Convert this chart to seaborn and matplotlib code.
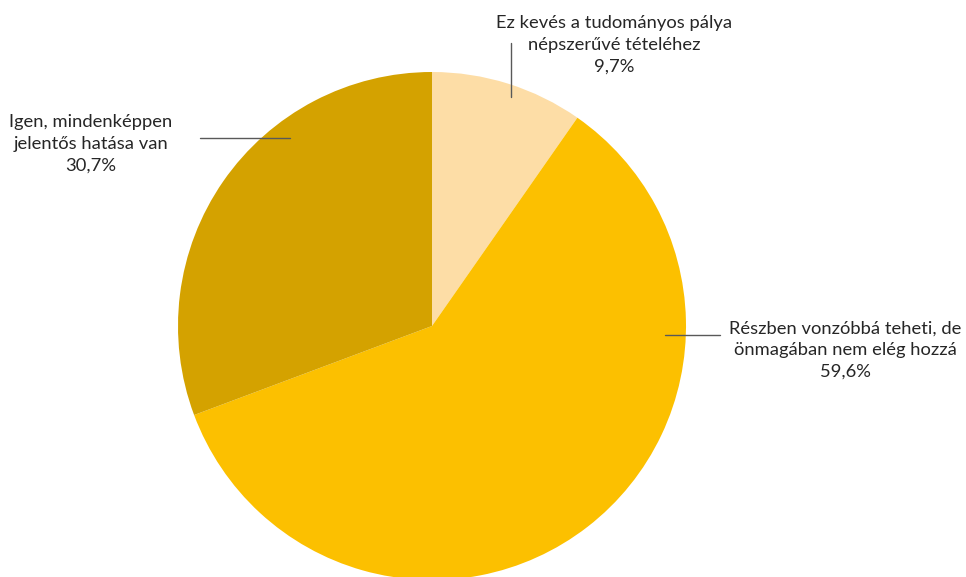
import matplotlib
matplotlib.use("Agg")
import matplotlib.pyplot as plt
import seaborn as sns

# Survey answer shares (percent), clockwise from 12 o'clock
categories = [
    "Ez kevés a tudományos pálya\nnépszerűvé tételéhez",
    "Részben vonzóbbá teheti, de\nönmagában nem elég hozzá",
    "Igen, mindenképpen\njelentős hatása van",
]
values = [9.7, 59.6, 30.7]
value_labels = ["9,7%", "59,6%", "30,7%"]
colors = ["#FDDDA6", "#FCC000", "#D4A200"]

sns.set_theme(style="white")
plt.rcParams["font.family"] = ["Lato", "DejaVu Sans"]

W, H = 966, 577
fig = plt.figure(figsize=(W / 100, H / 100), dpi=100)
ax = fig.add_axes([0, 0, 1, 1])

cx, cy, r = 432, H - 326, 254
ax.pie(values, colors=colors, startangle=90, counterclock=False,
       center=(cx, cy), radius=r, frame=True,
       wedgeprops=dict(linewidth=0))

ax.set_xlim(0, W)
ax.set_ylim(0, H)
ax.set_aspect("equal")
ax.axis("off")

# label placement (text centre, leader line) in pixel coordinates
label_pos = [(614, 45), (845, 350), (91, 144)]
leaders = [((511, 43), (511, 97)), ((665, 335), (720, 335)), ((200, 138), (290, 138))]

for cat, val, (tx, ty), (p0, p1) in zip(categories, value_labels, label_pos, leaders):
    ax.text(tx, H - ty, f"{cat}\n{val}", ha="center", va="center",
            fontsize=13.2, color="#262626", linespacing=1.45)
    ax.plot([p0[0], p1[0]], [H - p0[1], H - p1[1]], color="#595959", lw=1)

fig.savefig("out.png", dpi=100)
